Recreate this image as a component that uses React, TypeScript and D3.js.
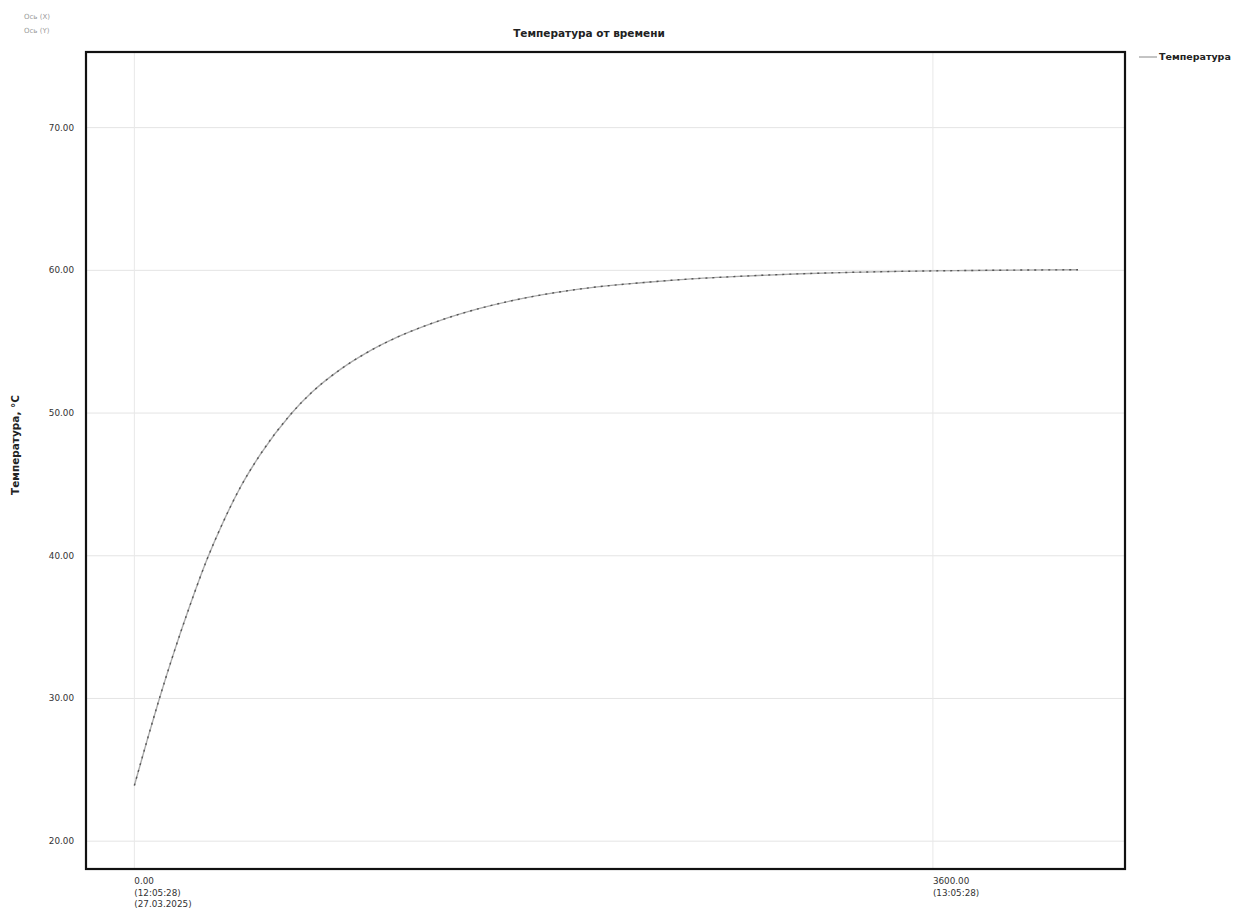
import React from "react";
import * as d3 from "d3";

// time in seconds from start, temperature in °C
const timeSec = [0, 60, 113, 180, 239, 329, 400, 478, 568, 704, 800, 929, 1050, 1200, 1380, 1561, 1780, 2012, 2283, 2463, 2700, 3004, 3230, 3455, 3700, 3907, 4100, 4254];
const tempC = [23.9, 27.2, 30.0, 33.3, 36.0, 39.8, 42.35, 44.8, 47.1, 49.9, 51.45, 53.06, 54.25, 55.42, 56.5, 57.35, 58.12, 58.7, 59.13, 59.35, 59.56, 59.76, 59.86, 59.93, 59.98, 60.01, 60.03, 60.04];

const yTicks = [20, 30, 40, 50, 60, 70];
const xTicks = [0, 3600];
const xTickLines: string[][] = [
  ["0.00", "(12:05:28)", "(27.03.2025)"],
  ["3600.00", "(13:05:28)"],
];

const title = "Температура от времени";
const yTitle = "Температура, °С";
const seriesName = "Температура";
const axisNotes = ["Ось (X)", "Ось (Y)"];

export default function App() {
  const W = 1235, H = 916;
  const left = 86, right = 1125, top = 52, bottom = 869;
  const x = d3.scaleLinear().domain([-218, 4466]).range([left, right]);
  const y = d3.scaleLinear().domain([18.05, 75.3]).range([bottom, top]);
  const pts = timeSec.map((t, i) => [t, tempC[i]] as [number, number]);
  const line = d3
    .line<[number, number]>()
    .x((d) => x(d[0]))
    .y((d) => y(d[1]))
    .curve(d3.curveMonotoneX);
  const path = line(pts) || "";
  const font = "'DejaVu Sans', 'Noto Sans', sans-serif";

  return (
    <svg
      width={W}
      height={H}
      style={{ position: "absolute", left: 0, top: 0, background: "#fff" }}
      fontFamily={font}
    >
      <rect x={0} y={0} width={W} height={H} fill="#fff" />
      {axisNotes.map((s, i) => (
        <text key={s} x={24} y={19 + i * 14} fontSize={7} fill="#999">
          {s}
        </text>
      ))}
      <text x={589} y={37} fontSize={10.5} textAnchor="middle" fill="#222" fontWeight="bold">
        {title}
      </text>
      {/* grid */}
      {yTicks.map((v) => (
        <line key={"gy" + v} x1={left} x2={right} y1={y(v)} y2={y(v)} stroke="#e4e4e4" strokeWidth={1} />
      ))}
      {xTicks.map((v) => (
        <line key={"gx" + v} x1={x(v)} x2={x(v)} y1={top} y2={bottom} stroke="#e8e8e8" strokeWidth={1} />
      ))}
      {/* curve */}
      <path d={path} fill="none" stroke="#aaa" strokeWidth={1.4} />
      <path d={path} fill="none" stroke="#555" strokeWidth={1.4} strokeDasharray="2 5" />
      {/* frame */}
      <rect x={left} y={top} width={right - left} height={bottom - top} fill="none" stroke="#111" strokeWidth={2.2} />
      {/* y tick labels */}
      {yTicks.map((v) => (
        <text key={"ty" + v} x={74} y={y(v) + 3} fontSize={8.8} textAnchor="end" fill="#333">
          {v.toFixed(2)}
        </text>
      ))}
      <text
        transform={`translate(19, 445) rotate(-90)`}
        fontSize={10.5}
        textAnchor="middle"
        fill="#222"
        fontWeight="bold"
      >
        {yTitle}
      </text>
      {/* x tick labels */}
      {xTicks.map((v, i) => (
        <text key={"tx" + v} x={x(v)} y={884} fontSize={8.8} fill="#333">
          {xTickLines[i].map((s, j) => (
            <tspan key={j} x={x(v)} dy={j === 0 ? 0 : 11.5}>
              {s}
            </tspan>
          ))}
        </text>
      ))}
      {/* legend */}
      <line x1={1139} x2={1157} y1={57} y2={57} stroke="#888" strokeWidth={1} />
      <text x={1159} y={60} fontSize={9.5} fill="#222" fontWeight="bold">
        {seriesName}
      </text>
    </svg>
  );
}
